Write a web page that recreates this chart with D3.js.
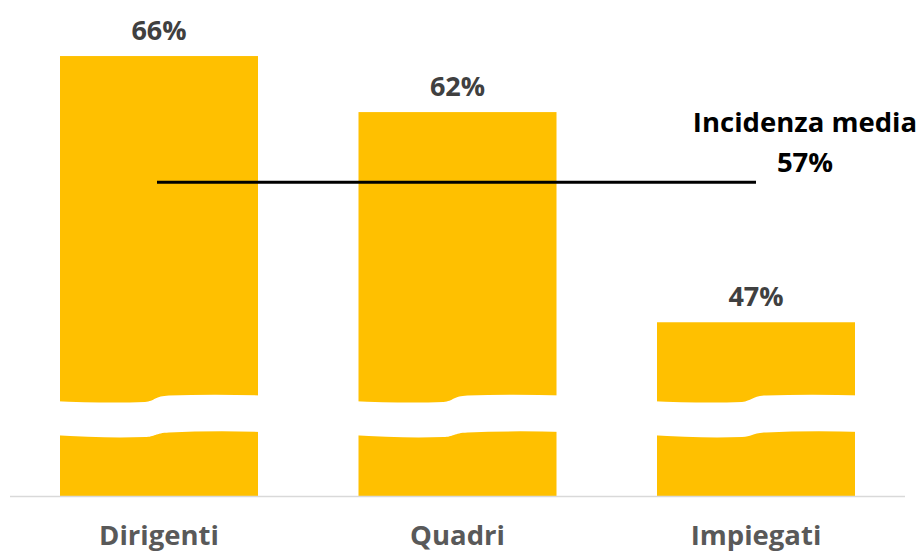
<!DOCTYPE html>
<html>
<head>
<meta charset="utf-8">
<script src="https://cdn.jsdelivr.net/npm/d3@7"></script>
<style>
  html, body { margin: 0; padding: 0; background: #ffffff; }
  svg { display: block; }
  text { font-family: "Open Sans", "Noto Sans", sans-serif; font-weight: 700; }
</style>
</head>
<body>
<svg id="chart" width="924" height="556"></svg>
<script>
// Share by staff category (%)
const categories = ["Dirigenti", "Quadri", "Impiegati"];
const values = [66, 62, 47];
const averageValue = 57;
const averageLabel = "Incidenza media";

const W = 924, H = 556;
const baseY = 496;
const svg = d3.select("#chart");

const x = d3.scaleBand()
  .domain(categories)
  .range([10, 905])
  .paddingInner(0.3367)
  .paddingOuter(0.1675);

// Value axis starts above zero (broken axis), so the bars are cut by a band
const y = d3.scaleLinear()
  .domain([34.6, 70])
  .range([baseY, 0]);

const fmt = v => v + "%";
const data = categories.map((c, i) => ({ cat: c, value: values[i] }));

// Bars
svg.append("g")
  .selectAll("rect")
  .data(data)
  .join("rect")
  .attr("x", d => x(d.cat))
  .attr("y", d => y(d.value))
  .attr("width", x.bandwidth())
  .attr("height", d => baseY - y(d.value))
  .attr("fill", "#FFC000");

// Axis-break band drawn across each bar
const breakY = baseY - 78;
function breakPath(x0, x1) {
  const cx = (x0 + x1) / 2;
  const l = x0 - 8, r = x1 + 8;
  const tl = breakY - 17, tr = breakY - 23;
  const bl = breakY + 19, br = breakY + 14;
  return [
    `M${l},${tl}`,
    `Q${(l + cx) / 2},${tl + 2.5} ${cx - 14},${tl + 1}`,
    `C${cx - 4},${tl} ${cx - 4},${tr + 1} ${cx + 10},${tr + 0.5}`,
    `Q${(cx + r) / 2},${tr - 1} ${r},${tr + 0.5}`,
    `L${r},${br}`,
    `Q${(cx + r) / 2},${br - 1.5} ${cx + 10},${br + 0.5}`,
    `C${cx - 4},${br + 1} ${cx - 4},${bl} ${cx - 14},${bl}`,
    `Q${(l + cx) / 2},${bl + 1.5} ${l},${bl - 2}`,
    "Z"
  ].join(" ");
}
svg.append("g")
  .selectAll("path")
  .data(data)
  .join("path")
  .attr("d", d => breakPath(x(d.cat), x(d.cat) + x.bandwidth()))
  .attr("fill", "#ffffff");

// Baseline
svg.append("line")
  .attr("x1", 10).attr("x2", 905)
  .attr("y1", baseY + 0.5).attr("y2", baseY + 0.5)
  .attr("stroke", "#d9d9d9")
  .attr("stroke-width", 1.5);

// Value labels
svg.append("g")
  .selectAll("text")
  .data(data)
  .join("text")
  .attr("x", d => x(d.cat) + x.bandwidth() / 2)
  .attr("y", d => y(d.value) - 16)
  .attr("text-anchor", "middle")
  .attr("font-size", 27)
  .attr("fill", "#404040")
  .text(d => fmt(d.value));

// Category labels
svg.append("g")
  .selectAll("text")
  .data(data)
  .join("text")
  .attr("x", d => x(d.cat) + x.bandwidth() / 2)
  .attr("y", baseY + 49)
  .attr("text-anchor", "middle")
  .attr("font-size", 27.5)
  .attr("fill", "#595959")
  .text(d => d.cat);

// Average line
const xStart = x(categories[0]) + x.bandwidth() / 2 - 2;
const xEnd = x(categories[categories.length - 1]) + x.bandwidth() / 2;
svg.append("line")
  .attr("x1", xStart).attr("x2", xEnd)
  .attr("y1", y(averageValue)).attr("y2", y(averageValue))
  .attr("stroke", "#000000")
  .attr("stroke-width", 3);

const avgG = svg.append("g")
  .attr("text-anchor", "middle")
  .attr("font-size", 27.5)
  .attr("fill", "#000000");
avgG.append("text")
  .attr("x", xEnd + 49)
  .attr("y", y(averageValue) - 50)
  .text(averageLabel);
avgG.append("text")
  .attr("x", xEnd + 49)
  .attr("y", y(averageValue) - 10)
  .text(fmt(averageValue));
</script>
</body>
</html>
